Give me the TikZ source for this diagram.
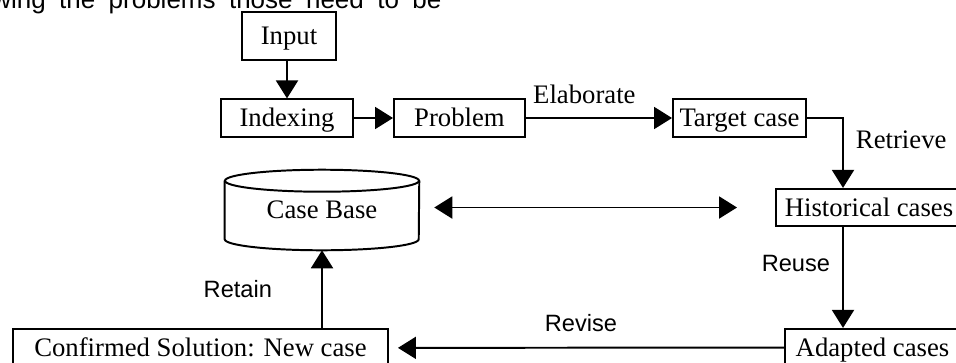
\documentclass[tikz,border=0pt]{standalone}
\usepackage{fontspec}
\setmainfont{Liberation Serif}
\setsansfont{Liberation Sans}
\usepackage{tikz}
\usetikzlibrary{calc,arrows.meta}

\begin{document}
\begin{tikzpicture}[
    >={Triangle[length=0.45cm,width=0.55cm]},
    main/.style = {draw, rectangle, line width=1.4pt, inner sep=0pt, minimum height=0.93cm,
        text height=13.2pt, text depth=0.6pt, font=\fontsize{19}{22}\selectfont},
    lbl/.style = {inner sep=0pt, font=\fontsize{19}{22}\selectfont},
    slbl/.style = {inner sep=0pt, font=\sffamily\fontsize{16.8}{20}\selectfont},
    link/.style = {line width=1.4pt, ->}
]
    \useasboundingbox (0,0) rectangle (23.9,9.05);
    \clip (0,0) rectangle (23.9,9.05);

    \node[anchor=base west, inner sep=0pt, font=\sffamily\fontsize{18.5}{22}\selectfont] (topline) at (-0.2,8.85) {\spaceskip=0.335cm wing the problems those need to be};

    \node[main, minimum width=2.35cm, minimum height=1.2cm] (input) at (7.225,8.15) {Input};
    \node[main, minimum width=3.3cm] (indexing) at (7.175,6.1) {Indexing};
    \node[main, minimum width=3.275cm] (problem) at (11.4875,6.1) {Problem};
    \node[main, minimum width=3.325cm] (target) at (18.4875,6.1) {Target case};
    \node[main, minimum width=4.65cm] (historical) at (21.725,3.8625) {Historical cases};
    \node[main, minimum width=9.375cm] (confirmed) at (5.0125,0.35) {Confirmed Solution: New case};
    \node[main, minimum width=4.375cm] (adapted) at (21.8125,0.3625) {Adapted cases};

    % case base drawn as a cylinder round its node
    \node[lbl, minimum width=4.85cm, minimum height=2cm] (casebase) at (8.05,3.8) {\raisebox{-0.16cm}{Case Base}};
    \draw[line width=1.4pt] ($(casebase.north)+(0,-0.275)$) ellipse [x radius=2.425cm, y radius=0.275cm];
    \draw[line width=1.4pt] ($(casebase.north west)+(0,-0.275)$) -- ($(casebase.south west)+(0,0.275)$)
        arc [start angle=180, end angle=360, x radius=2.425cm, y radius=0.275cm]
        -- ($(casebase.north east)+(0,-0.275)$);

    \coordinate (spine) at (21.075,0);

    \draw[link] (input.south -| indexing.north) -- (indexing.north);
    \draw[link] (indexing) -- (problem);
    \draw[link] (problem) -- node[lbl, above=0.33cm, pos=0.4] {Elaborate} (target);
    \draw[link] (target.east) -| node[lbl, right=0.3cm, pos=0.655] {Retrieve} (spine |- historical.north);
    \draw[link] (spine |- historical.south) -- node[slbl, left=0.3cm, pos=0.36] {Reuse} (spine |- adapted.north);
    \draw[link, shorten >=0.225cm] (adapted) -- node[slbl, above=0.37cm, pos=0.514] {Revise} (confirmed);
    \draw[link] (casebase.south |- confirmed.north) -- node[slbl, left=1.225cm] {Retain} (casebase.south);
    \draw[line width=1.4pt, <->, shorten <=0.375cm, shorten >=0.95cm] (casebase.east |- historical.west) -- (historical.west);
\end{tikzpicture}
\end{document}
